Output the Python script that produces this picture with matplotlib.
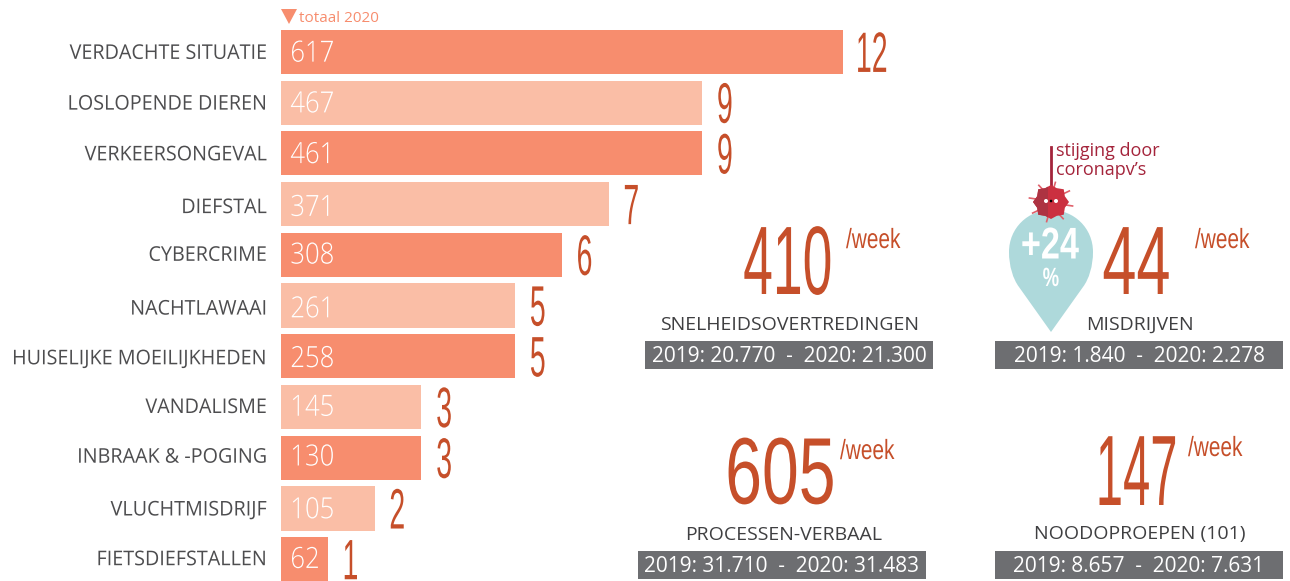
import numpy as np
import matplotlib
matplotlib.use('Agg')
import matplotlib.pyplot as plt
from matplotlib.patches import Polygon, PathPatch, Rectangle, Circle
from matplotlib.path import Path
from matplotlib.patheffects import AbstractPathEffect
from matplotlib.transforms import Affine2D

categories = ['VERDACHTE SITUATIE', 'LOSLOPENDE DIEREN', 'VERKEERSONGEVAL', 'DIEFSTAL', 'CYBERCRIME',
              'NACHTLAWAAI', 'HUISELIJKE MOEILIJKHEDEN', 'VANDALISME', 'INBRAAK & -POGING',
              'VLUCHTMISDRIJF', 'FIETSDIEFSTALLEN']
totals = [617, 467, 461, 371, 308, 261, 258, 145, 130, 105, 62]
perWeek = [12, 9, 9, 7, 6, 5, 5, 3, 3, 2, 1]

bigNumbers = ['410', '44', '605', '147']
bigLabels = ['SNELHEIDSOVERTREDINGEN', 'MISDRIJVEN', 'PROCESSEN-VERBAAL', 'NOODOPROEPEN (101)']
compare = ['2019: 20.770  -  2020: 21.300', '2019: 1.840  -  2020: 2.278',
           '2019: 31.710  -  2020: 31.483', '2019: 8.657  -  2020: 7.631']

W, H = 1290, 581
darkBar = '#f78d6e'
lightBar = '#fabea6'
rust = '#c64f2a'
grey = '#6d6e71'
textGrey = '#4d4d4f'
sansFont = ['Liberation Sans']
plain = ['Open Sans', 'DejaVu Sans']


# no condensed font installed, so squeeze the glyphs sideways at draw time
class Squeeze(AbstractPathEffect):

    def __init__(self, sx, anchor='center'):
        super().__init__()
        self.sx = sx
        self.anchor = anchor

    def draw_path(self, renderer, gc, tpath, affine, rgbFace=None):
        xs = tpath.vertices[:, 0]
        if self.anchor == 'left':
            cx = xs.min()
        elif self.anchor == 'right':
            cx = xs.max()
        else:
            cx = (xs.min() + xs.max()) / 2
        squeezed = Affine2D().translate(-cx, 0).scale(self.sx, 1).translate(cx, 0) + affine
        renderer.draw_path(gc, tpath, squeezed, rgbFace)


fig = plt.figure(figsize=(W / 100, H / 100), dpi=100, facecolor='white')

# bars sit in their own axes, x is weekly count, y is rank
barTop, barBottom = 27, 581
ax = fig.add_axes([281 / W, 1 - barBottom / H, (W - 281) / W, (barBottom - barTop) / H])
ypos = np.arange(len(categories))
colors = [darkBar if i % 2 == 0 else lightBar for i in ypos]
ax.barh(ypos, perWeek, height=0.87, color=colors)
ax.set_xlim(0, (W - 281) / 46.8)
ax.set_ylim(10.43, -0.49)
ax.axis('off')

labelShift = [0.04, 0.04, 0.04, 0.08, 0.02, 0.08, 0.06, 0.02, 0, 0.04, 0.02]
for i in ypos:
    ax.text(-0.3, i + labelShift[i], categories[i], ha='right', va='center', fontsize=14.6, color=textGrey,
            family=plain, path_effects=[Squeeze(0.975, 'right')])
    ax.text(0.2, i + labelShift[i], str(totals[i]), ha='left', va='center', fontsize=21, color='white',
            family=plain, fontweight='light', path_effects=[Squeeze(0.88, 'left')])
    numOffset = 0.36 + 0.14 * len(str(perWeek[i]))
    ax.text(perWeek[i] + numOffset, i + 0.1, str(perWeek[i]), ha='center', va='center', fontsize=41, color=rust,
            family=sansFont, path_effects=[Squeeze(0.5)])

# overlay in pixel coordinates for the four blocks
ov = fig.add_axes([0, 0, 1, 1], facecolor='none')
ov.set_xlim(0, W)
ov.set_ylim(H, 0)
ov.axis('off')

ov.add_patch(Polygon([[281, 9], [297, 9], [289, 24]], color=darkBar, lw=0))
ov.text(299, 18, 'totaal 2020', ha='left', va='center', fontsize=11, color=darkBar, family=plain)

labelX = [790, 1140, 784, 1140]
bigX = [834, 1137, 837, 1180]
bigHa = ['right', 'center', 'right', 'right']
bigY = [269, 269, 479, 479]
bigSize = [70, 70, 68, 72]
bigSqueeze = [0.55, 0.63, 0.7, 0.49]
weekX = [846, 1195, 840, 1188]
weekY = [241, 241, 452, 449]
labelY = [325, 325, 535, 534]
boxY = [341, 341, 551, 551]
boxX = [645, 995, 638, 995]
boxW = 288

for i in range(4):
    ov.text(bigX[i], bigY[i], bigNumbers[i], ha=bigHa[i], va='center', fontsize=bigSize[i], color=rust,
            family=sansFont, path_effects=[Squeeze(bigSqueeze[i], bigHa[i])])
    ov.text(weekX[i], weekY[i], '/week', ha='left', va='center', fontsize=20, color=rust,
            family=sansFont, path_effects=[Squeeze(0.75, 'left')])
    ov.text(labelX[i], labelY[i], bigLabels[i], ha='center', va='center', fontsize=14, color='#3f3f41', family=plain)
    ov.add_patch(Rectangle((boxX[i], boxY[i]), boxW, 28, color=grey, lw=0))
    ov.text(boxX[i] + boxW / 2, boxY[i] + 15, compare[i], ha='center', va='center', fontsize=15, color='white', family=plain)

# pin
pinCol = '#aed9db'
verts = [(1051, 332), (1019, 287), (1013, 279), (1009, 266), (1009, 252), (1009, 228), (1028, 210), (1051, 210),
         (1074, 210), (1093, 228), (1093, 252), (1093, 266), (1089, 279), (1083, 287), (1051, 332)]
codes = [Path.MOVETO, Path.LINETO] + [Path.CURVE4] * 12 + [Path.LINETO]
ov.add_patch(PathPatch(Path(verts, codes), facecolor=pinCol, lw=0))
ov.text(1079, 247, '+24', ha='right', va='center', fontsize=32, color='white', family=sansFont,
        fontweight='bold', path_effects=[Squeeze(0.77, 'right')])
ov.text(1051, 279, '%', ha='center', va='center', fontsize=19, color='white', family=sansFont,
        fontweight='bold', path_effects=[Squeeze(0.7)])

# annotation and virus
red = '#a4243b'
ov.plot([1051, 1051], [147, 190], color=red, lw=2)
ov.text(1056, 151, 'stijging door', ha='left', va='center', fontsize=13, color=red, family=plain)
ov.text(1056, 170, 'coronapv\u2019s', ha='left', va='center', fontsize=13, color=red, family=plain)

cx, cy = 1051, 202
ang = np.linspace(0, 2 * np.pi, 16, endpoint=False)
rad = np.array([18, 15, 18, 15, 17, 15, 18, 15, 18, 15, 18, 15, 17, 15, 18, 15])
blob = np.c_[cx + rad * np.cos(ang), cy + rad * np.sin(ang)]
for a in ang[::2] + 0.2:
    ov.plot([cx + 15 * np.cos(a), cx + 22 * np.cos(a)], [cy + 15 * np.sin(a), cy + 20 * np.sin(a)],
            color='#e0606a', lw=1.2, zorder=3)
ov.add_patch(Polygon(blob, closed=True, color='#cb3040', lw=0, zorder=4))
shade = Rectangle((cx - 20, cy - 20), 17, 40, color='#ad3342', lw=0, zorder=5)
ov.add_patch(shade)
shade.set_clip_path(Polygon(blob, closed=True, transform=ov.transData))
for ex in [cx - 5, cx + 5]:
    ov.add_patch(Circle((ex, cy - 1), 2, color='white', lw=0, zorder=6))
ov.add_patch(Circle((cx, cy - 1), 1.3, color='black', lw=0, zorder=6))

plt.savefig('out.png', dpi=100)
